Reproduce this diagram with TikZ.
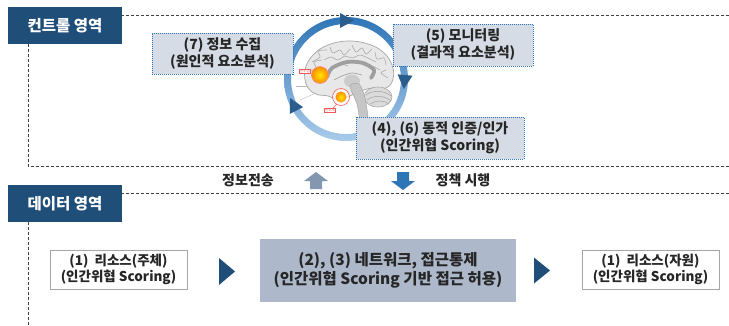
\documentclass[tikz,border=0pt]{standalone}
\usepackage{fontspec}
\setmainfont{Noto Sans CJK KR}
\usetikzlibrary{calc}

\definecolor{hdrblue}{HTML}{1F4E79}
\definecolor{zoneline}{HTML}{404040}
\definecolor{infofill}{HTML}{D6DCE5}
\definecolor{infoline}{HTML}{2E75B6}
\definecolor{midfill}{HTML}{ADB9CA}
\definecolor{boxline}{HTML}{A6A6A6}
\definecolor{ringtop}{HTML}{2E75B6}
\definecolor{ringbot}{HTML}{A9CBEA}
\definecolor{ringhead}{HTML}{2A5C8C}
\definecolor{upfill}{HTML}{8497B0}
\definecolor{downfill}{HTML}{2E75B6}
\definecolor{txt}{HTML}{262626}
\definecolor{spotred}{HTML}{F05A5A}

\tikzset{
  zone/.style={draw=zoneline, line width=1pt, dash pattern=on 3pt off 2pt},
  header/.style={fill=hdrblue, text=white, minimum width=114pt, minimum height=37pt,
    inner sep=0pt, font=\bfseries\fontsize{15.5}{17}\selectfont},
  infobox/.style={fill=infofill, draw=infoline, line width=0.9pt, dash pattern=on 1pt off 1pt,
    align=center, inner sep=0pt, text=txt, font=\bfseries\fontsize{14}{17}\selectfont},
  whitebox/.style={fill=white, draw=boxline, line width=1pt, align=center, inner sep=0pt,
    text=txt, minimum width=137pt, minimum height=39pt, font=\bfseries\fontsize{13.5}{16.5}\selectfont},
  midbox/.style={fill=midfill, align=center, inner sep=0pt, text=txt,
    minimum width=256pt, minimum height=63pt, font=\bfseries\fontsize{15.5}{18.5}\selectfont},
  flowlabel/.style={text=txt, inner sep=0pt, font=\bfseries\fontsize{14}{17}\selectfont},
  tinylabel/.style={fill=white, draw=spotred, line width=0.6pt, inner sep=0.6pt,
    text=spotred, font=\fontsize{3.5}{3.5}\selectfont},
  gyrus/.style={draw=gray!70, line width=0.55pt},
}

\begin{document}
\begin{tikzpicture}[x=1pt, y=-1pt]
\useasboundingbox (0,0) rectangle (729,325);

% zone frames (open to the right)
\draw[zone] (729,15) -- (28,15) -- (28,166) -- (729,166);
\draw[zone] (729,193) -- (28,193) -- (28,325);

% zone headers
\node[header] (ctl) at (65,25.5) {컨트롤 영역};
\node[header] (dat) at (65,203.5) {데이터 영역};

% ---------- cycle ring ----------
\coordinate (ringc) at (346,79);
\shade[top color=ringtop, bottom color=ringbot, even odd rule]
  (ringc) circle (62pt) (ringc) circle (55pt);

% ---------- brain sketch ----------
\begin{scope}
  % cerebrum
  \filldraw[fill=gray!18, draw=gray!70, line width=0.7pt]
    plot[smooth cycle, tension=0.7] coordinates {(307,86) (305,70) (313,55) (328,45) (348,41)
      (368,44) (383,52) (392,65) (393,79) (386,88) (372,88) (358,92) (348,97) (338,100) (328,96) (316,94)};
  % gyri
  \draw[gyrus] plot[smooth] coordinates {(312,62) (320,57) (318,51) (327,50)};
  \draw[gyrus] plot[smooth] coordinates {(330,47) (333,53) (340,50) (344,55) (350,49)};
  \draw[gyrus] plot[smooth] coordinates {(352,45) (356,52) (362,48) (366,54) (372,49)};
  \draw[gyrus] plot[smooth] coordinates {(375,52) (377,59) (384,58) (386,65)};
  \draw[gyrus] plot[smooth] coordinates {(386,70) (381,73) (388,78)};
  \draw[gyrus] plot[smooth] coordinates {(309,72) (316,68) (314,62) (322,60)};
  \draw[gyrus] plot[smooth] coordinates {(324,60) (331,57) (338,60) (345,56) (352,58) (360,55) (368,58) (376,62)};
  \draw[gyrus] plot[smooth] coordinates {(333,68) (340,64) (348,66)};
  \draw[gyrus] plot[smooth] coordinates {(364,66) (372,66) (380,70)};
  % corpus callosum
  \draw[gray!75, line width=3.8pt, line cap=round]
    plot[smooth] coordinates {(327,77) (332,68) (347,62) (363,63) (374,70) (371,78)};
  % inner region
  \fill[gray!40] (352,81) ellipse (8pt and 6.5pt);
  \draw[gray!65, line width=0.8pt] plot[smooth] coordinates {(334,80) (342,76) (352,73) (362,75)};
  % cerebellum
  \filldraw[fill=gray!28, draw=gray!70, line width=0.6pt] (378,97) ellipse (14pt and 10pt);
  \draw[gyrus] (366,95) .. controls (372,90) and (384,90) .. (391,96);
  \draw[gyrus] (367,100) .. controls (373,95) and (384,95) .. (391,101);
  \draw[gyrus] (370,104) .. controls (376,100) and (384,100) .. (389,104);
  % brainstem
  \filldraw[fill=gray!45, draw=gray!70, line width=0.5pt]
    plot[smooth cycle] coordinates {(350,86) (359,84) (365,98) (368,122) (361,124) (357,104)};
  % marked regions
  \shade[inner color=yellow!80!orange, outer color=orange!90!yellow] (320,75) circle (8.5pt);
  \draw[spotred!70, line width=0.6pt] (320,75) circle (8.5pt);
  \fill[white, opacity=0.6] (341,97) circle (8.5pt);
  \shade[inner color=yellow!80!orange, outer color=orange!90!yellow] (341,97) circle (5.5pt);
  \draw[spotred, line width=0.6pt] (341,97) circle (8.5pt);
  \draw[spotred, line width=0.5pt] (337,104) -- (333,108);
  \node[tinylabel] (lab1) at (305,71) {전두엽};
  \node[tinylabel] (lab2) at (330,110) {편도체};
  % faint annotation leaders
  \draw[gray!55, line width=0.4pt] (296,86) -- (307,86);
  \draw[gray!55, line width=0.4pt] (300,100) -- (316,93);
\end{scope}

% ring arrowheads (clockwise)
\fill[ringhead, shift={(346,20.5)}, rotate=0]   (8,0) -- (-6,-7.5) -- (-6,7.5) -- cycle;
\fill[ringhead, shift={(404.5,81)}, rotate=-95] (8,0) -- (-6,-7.5) -- (-6,7.5) -- cycle;
\fill[ringhead, shift={(293.7,105.2)}, rotate=117] (8,0) -- (-6,-7.5) -- (-6,7.5) -- cycle;

% ---------- control zone boxes ----------
\node[infobox, minimum width=141pt, minimum height=41pt] (collect) at (222.5,53.5)
  {(7) 정보 수집\\(원인적 요소분석)};
\node[infobox, minimum width=140pt, minimum height=42pt] (monitor) at (463,45)
  {(5) 모니터링\\(결과적 요소분석)};
\node[infobox, minimum width=168pt, minimum height=42pt] (authz) at (440,138)
  {(4), (6) 동적 인증/인가\\(인간위협 Scoring)};

% ---------- transfer between zones ----------
\node[flowlabel] (send) at (248,180) {정보전송};
\node[flowlabel] (enforce) at (463,180) {정책 시행};
\fill[upfill] (310,189) -- (310,181) -- (304,181) -- (316,172) -- (328,181) -- (322,181) -- (322,189) -- cycle;
\fill[downfill] (397,172) -- (409,172) -- (409,181) -- (415,181) -- (403,190) -- (391,181) -- (397,181) -- cycle;

% ---------- data zone flow ----------
\node[whitebox] (subj) at (118.5,269.5) {(1)\ \ 리소스(주체)\\(인간위협 Scoring)};
\node[midbox] (net) at (388,270.5) {(2), (3) 네트워크, 접근통제\\(인간위협 Scoring 기반 접근 허용)};
\node[whitebox] (res) at (650.5,269.5) {(1)\ \ 리소스(자원)\\(인간위협 Scoring)};

\fill[hdrblue] (219,258) -- (235,271.5) -- (219,285) -- cycle;
\fill[hdrblue] (534,257.5) -- (550,270.5) -- (534,283.5) -- cycle;

\end{tikzpicture}
\end{document}
